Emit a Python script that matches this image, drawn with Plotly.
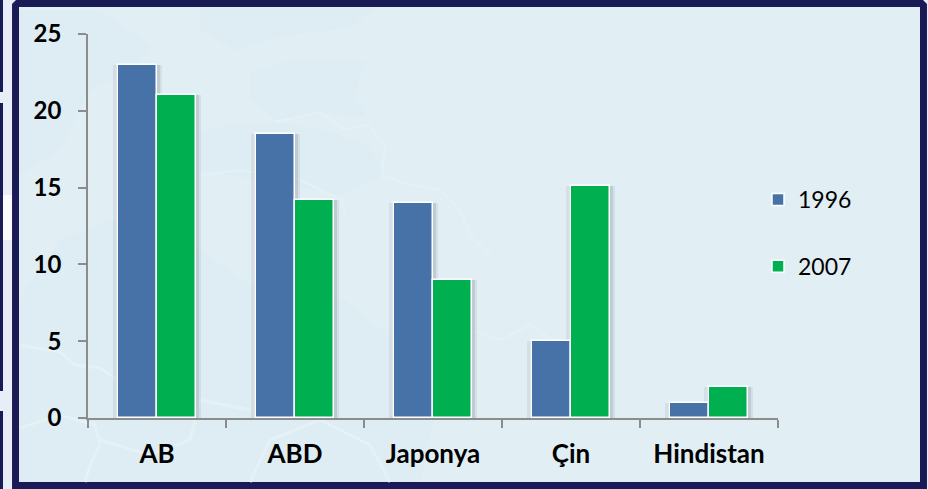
import plotly.graph_objects as go

kategoriler = ['AB', 'ABD', 'Japonya', 'Çin', 'Hindistan']
yil_1996 = [23, 18.5, 14, 5, 1]
yil_2007 = [21, 14.2, 9, 15.1, 2]
y_ticks = [0, 5, 10, 15, 20, 25]

MAVI = '#4672a8'
YESIL = '#00b050'
LACIVERT = '#1a1a57'
ZEMIN = '#e1eff5'
KOYU = '#deecf3'
ACIK = '#e4f1f6'
GRI = '#8c8c8c'
W, H = 928, 489
SOL, SAG, UST, ALT = 88, 778, 34, 418
BAR = 39 / 138


def fx(x):
    return (x - SOL) / (SAG - SOL)


def fy(y):
    return (ALT - y) / (ALT - UST)


def kutu(x0, y0, x1, y1, renk):
    # piksel koordinatlarini paper'a cevir
    return dict(type='rect', xref='paper', yref='paper', layer='below',
                x0=fx(x0), x1=fx(x1), y0=fy(y0), y1=fy(y1),
                fillcolor=renk, line_width=0)


def yol(noktalar, dolgu=None, cizgi=None, kalinlik=3):
    p = ' '.join('%s%.4f,%.4f' % ('L' if i else 'M', fx(x), fy(y))
                 for i, (x, y) in enumerate(noktalar))
    if dolgu:
        p += ' Z'
    return dict(type='path', path=p, xref='paper', yref='paper', layer='below',
                fillcolor=dolgu or 'rgba(0,0,0,0)',
                line=dict(color=cizgi or 'rgba(0,0,0,0)', width=kalinlik if cizgi else 0))


def yuvarlak(x0, y0, x1, y1, r, renk):
    p = 'M%.4f,%.4f L%.4f,%.4f L%.4f,%.4f L%.4f,%.4f L%.4f,%.4f L%.4f,%.4f Z' % (
        fx(x0), fy(y1), fx(x0), fy(y0 + r), fx(x0 + r), fy(y0),
        fx(x1 - r), fy(y0), fx(x1), fy(y0 + r), fx(x1), fy(y1))
    return dict(type='path', path=p, xref='paper', yref='paper', layer='below',
                fillcolor=renk, line_width=0)


fig = go.Figure()

# golgeler, iki kat
for pay, renk in [(5, 'rgba(90,100,105,0.10)'), (2.5, 'rgba(90,100,105,0.16)')]:
    for deger, ofset in [(yil_1996, -BAR), (yil_2007, 0)]:
        fig.add_trace(go.Bar(x=kategoriler, y=deger, width=BAR + 2 * pay / 138,
                             offset=ofset - pay / 138, showlegend=False, hoverinfo='skip',
                             marker=dict(color=renk, line_width=0)))

fig.add_trace(go.Bar(x=kategoriler, y=yil_1996, name='1996', width=BAR, offset=-BAR,
                     legendgroup='a',
                     marker=dict(color=MAVI, line=dict(color='white', width=1.5))))
fig.add_trace(go.Bar(x=kategoriler, y=yil_2007, name='2007', width=BAR, offset=0,
                     legendgroup='b',
                     marker=dict(color=YESIL, line=dict(color='white', width=1.5))))

sekiller = [
    kutu(0, 0, W, H, '#e9edf7'),
    kutu(3, 195, 12, 240, '#f8fafd'),
    kutu(0, 0, 3, 92, LACIVERT),
    kutu(0, 103, 3, 391, LACIVERT),
    kutu(0, 411, 3, H, LACIVERT),
    yuvarlak(12, 0, 927, 489, 4, LACIVERT),
    kutu(19, 7, 920, 482, ZEMIN),
    # harita lekeleri
    yol([(19, 300), (60, 240), (110, 220), (160, 235), (200, 250), (260, 290), (345, 300),
         (400, 345), (440, 395), (420, 482), (19, 482)], dolgu=KOYU),
    yol([(19, 10), (100, 10), (150, 45), (135, 70), (90, 90), (60, 150), (19, 175)], dolgu=KOYU),
    yol([(200, 8), (375, 8), (350, 28), (290, 35), (235, 50), (200, 30)], dolgu=KOYU),
    yol([(250, 72), (300, 58), (365, 62), (355, 95), (368, 118), (330, 112), (278, 122), (250, 98)], dolgu=KOYU),
    yol([(200, 132), (228, 125), (275, 122), (325, 130), (368, 145), (385, 175), (340, 195), (290, 185), (200, 170)], dolgu=KOYU),
    # nehirler
    yol([(275, 122), (320, 112), (345, 130), (368, 125), (385, 145), (382, 175), (400, 182),
         (440, 190), (460, 210), (470, 235), (490, 255)], cizgi=ACIK, kalinlik=2),
    yol([(200, 175), (240, 170), (300, 180), (342, 200), (345, 215)], cizgi=ACIK, kalinlik=2),
    yol([(20, 345), (60, 352), (75, 365), (100, 368), (125, 385)], cizgi=ACIK),
    yol([(20, 428), (60, 415), (95, 425), (100, 445), (90, 465), (85, 482)], cizgi=ACIK),
    yol([(100, 440), (150, 455), (190, 440), (200, 400), (250, 410)], cizgi=ACIK),
    yol([(250, 482), (270, 440), (320, 420), (370, 445), (390, 482)], cizgi=ACIK),
    yol([(400, 300), (470, 330), (500, 340), (530, 325), (560, 345)], cizgi=ACIK, kalinlik=2),
]

fig.update_layout(
    width=W, height=H,
    margin=dict(l=SOL, r=W - SAG, t=UST, b=H - ALT, autoexpand=False),
    paper_bgcolor=ZEMIN, plot_bgcolor='rgba(0,0,0,0)',
    barmode='overlay',
    shapes=sekiller,
    font=dict(family='Lato, sans-serif', color='black'),
    legend=dict(x=fx(758), y=fy(233), xanchor='left', yanchor='middle',
                tracegroupgap=34, font=dict(size=23, family='Lato, sans-serif'),
                bgcolor='rgba(0,0,0,0)'),
    bargap=0,
)
fig.update_xaxes(type='category', range=[-0.5, 4.5], showgrid=False,
                 tickfont=dict(size=26, family='Lato, sans-serif', weight='bold'),
                 showline=True, linecolor=GRI, linewidth=1.5,
                 ticks='outside', tickson='boundaries', tickcolor=GRI, ticklen=8, tickwidth=1.5,
                 ticklabelstandoff=12)
fig.update_yaxes(range=[0, 25], tickvals=y_ticks, showgrid=False, zeroline=False,
                 tickfont=dict(size=24, family='Lato, sans-serif', weight='bold'),
                 showline=True, linecolor=GRI, linewidth=1.5,
                 ticks='outside', tickcolor=GRI, ticklen=8, tickwidth=1.5,
                 ticklabelstandoff=12)

# sayfanin varsayilan 8px kenar boslugunu kaldir
fig.write_html("out.html", config=dict(displayModeBar=False),
               post_script="document.body.style.margin='0';document.body.style.overflow='hidden';")
